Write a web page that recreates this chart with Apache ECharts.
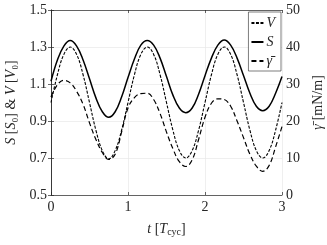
<!DOCTYPE html>
<html><head><meta charset="utf-8">
<script src="https://cdn.jsdelivr.net/npm/echarts@6/dist/echarts.min.js"></script>
<style>html,body{margin:0;padding:0;background:#fff}#c{width:327px;height:245px}</style>
</head><body><div id="c"></div>
<script>
// time in cycles (step 1/12)
const tVals = [0,0.0833,0.1667,0.25,0.3333,0.4167,0.5,0.5833,0.6667,0.75,0.8333,0.9167,
  1,1.0833,1.1667,1.25,1.3333,1.4167,1.5,1.5833,1.6667,1.75,1.8333,1.9167,
  2,2.0833,2.1667,2.25,2.3333,2.4167,2.5,2.5833,2.6667,2.75,2.8333,2.9167,3];
// V [V0]
const vVals = [1.0,1.15,1.26,1.30,1.26,1.15,1.0,0.85,0.74,0.695,0.74,0.85,
  1.0,1.15,1.26,1.30,1.26,1.15,1.0,0.85,0.74,0.70,0.74,0.85,
  1.0,1.15,1.26,1.30,1.26,1.15,1.0,0.85,0.74,0.70,0.74,0.85,1.0];
// S [S0]
const sVals = [1.115,1.23,1.305,1.335,1.305,1.23,1.128,1.025,0.95,0.92,0.95,1.03,
  1.135,1.235,1.31,1.335,1.31,1.24,1.14,1.04,0.97,0.945,0.97,1.045,
  1.145,1.24,1.31,1.338,1.31,1.24,1.146,1.05,0.98,0.956,0.98,1.05,1.14];
// gamma-bar [mN/m]
const gVals = [26.5,29.8,31.0,30.3,28.0,24.5,19.5,15.0,11.5,9.6,11.0,17.0,
  23.5,26.3,27.4,27.5,25.8,22.0,17.0,12.5,9.0,7.7,9.5,15.0,
  21.0,24.8,26.0,25.8,24.0,20.0,15.5,11.0,7.8,6.4,8.0,13.0,18.5];
const xTicks = [0,1,2,3];

const pair = arr => tVals.map((t,i)=>[t,arr[i]]);
const axCol = '#262626';
const gridCol = '#e8e8e8';
const serif = 'Liberation Serif';

const chart = echarts.init(document.getElementById('c'));
chart.setOption({
  animation:false,
  backgroundColor:'#fff',
  grid:{left:51,right:45,top:10,bottom:50,containLabel:false,outerBoundsMode:'none'},
  legend:{
    orient:'vertical', right:46, top:12,
    backgroundColor:'#fff', borderColor:axCol, borderWidth:0.6, borderRadius:0,
    padding:[4,6,3,2], itemGap:5, itemWidth:12, itemHeight:14,
    itemStyle:{opacity:0},
    textStyle:{fontFamily:serif, fontSize:14, fontStyle:'italic', color:axCol, padding:[0,0,0,-2]},
    data:['V','S','γ̄']
  },
  xAxis:[{
    type:'value', min:0, max:3, interval:1,
    name:'{i|t} [{i|T}{s|cyc}]', nameLocation:'middle', nameGap:26,
    nameTextStyle:{fontFamily:serif, fontSize:14, color:axCol,
      rich:{i:{fontFamily:serif,fontStyle:'italic',fontSize:14,color:axCol},
            s:{fontFamily:serif,fontSize:10,color:axCol,padding:[6,0,0,0]}}},
    axisLine:{show:true,lineStyle:{color:axCol,width:0.7}},
    axisTick:{show:true,inside:true,length:3,lineStyle:{color:axCol,width:0.7}},
    axisLabel:{fontFamily:serif,fontSize:14,color:axCol,margin:5,
      formatter:v=>xTicks.includes(v)?String(v):''},
    splitLine:{show:true,lineStyle:{color:gridCol,width:0.7}}
  },{
    type:'value', min:0, max:3, interval:1, position:'top',
    axisLine:{show:true,lineStyle:{color:axCol,width:0.7}},
    axisTick:{show:true,inside:true,length:3,lineStyle:{color:axCol,width:0.7}},
    axisLabel:{show:false}, splitLine:{show:false}
  }],
  yAxis:[{
    type:'value', min:0.5, max:1.5, interval:0.2, position:'left',
    name:'{i|S} [{i|S}₀] & {i|V} [{i|V}₀]', nameLocation:'middle', nameGap:26, nameRotate:90,
    nameTextStyle:{fontFamily:serif, fontSize:14, color:axCol,
      rich:{i:{fontFamily:serif,fontStyle:'italic',fontSize:14,color:axCol}}},
    axisLine:{show:true,lineStyle:{color:axCol,width:0.7}},
    axisTick:{show:true,inside:true,length:3,lineStyle:{color:axCol,width:0.7}},
    axisLabel:{fontFamily:serif,fontSize:14,color:axCol,margin:4,formatter:v=>v.toFixed(1)},
    splitLine:{show:true,lineStyle:{color:gridCol,width:0.7}}
  },{
    type:'value', min:0, max:50, interval:10, position:'right',
    name:'{g|γ̄}[mN/m]', nameLocation:'middle', nameGap:23, nameRotate:90,
    nameTextStyle:{fontFamily:serif, fontSize:14, color:axCol,
      rich:{g:{fontFamily:serif,fontStyle:'italic',fontSize:14,color:axCol,padding:[0,4,0,0]}}},
    axisLine:{show:true,lineStyle:{color:axCol,width:0.7}},
    axisTick:{show:true,inside:true,length:3,lineStyle:{color:axCol,width:0.7}},
    axisLabel:{fontFamily:serif,fontSize:14,color:axCol,margin:4},
    splitLine:{show:false}
  }],
  series:[
    {name:'V', type:'line', yAxisIndex:0, data:pair(vVals), smooth:0.4, symbol:'none',
      lineStyle:{color:'#000',width:1.1,type:[3,1.5]}, itemStyle:{color:'#000'}},
    {name:'S', type:'line', yAxisIndex:0, data:pair(sVals), smooth:0.4, symbol:'none',
      lineStyle:{color:'#000',width:1.5,type:'solid'}, itemStyle:{color:'#000'}},
    {name:'γ̄', type:'line', yAxisIndex:1, data:pair(gVals), smooth:0.4, symbol:'none',
      lineStyle:{color:'#000',width:1.2,type:[5,3]}, itemStyle:{color:'#000'}}
  ]
});
</script></body></html>
